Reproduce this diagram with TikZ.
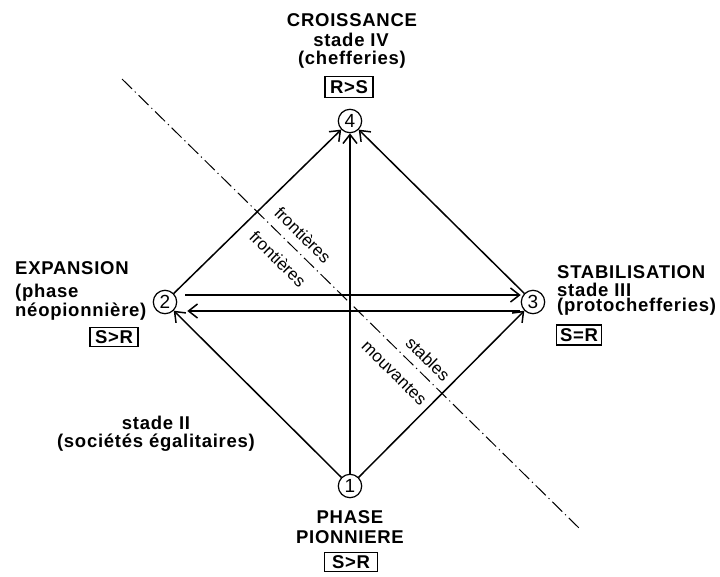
\documentclass[tikz,border=0pt]{standalone}
\usepackage{fontspec}
\setmainfont{Liberation Sans}
\newfontfamily\labfont{Liberation Sans}[LetterSpace=4]
\usetikzlibrary{arrows.meta}
\begin{document}
\begin{tikzpicture}[x=1pt,y=-1pt,
  lab/.style={font=\labfont\fontsize{18.5}{20}\selectfont\bfseries, inner sep=0pt},
  labl/.style={lab, anchor=west},
  rel/.style={draw, line width=1.2pt, font=\labfont\fontsize{18.5}{20}\selectfont\bfseries, minimum width=48pt, minimum height=21pt, inner sep=1pt},
  num/.style={draw, circle, line width=1.2pt, minimum size=23.4pt, inner sep=0pt, font=\fontsize{19}{20}\selectfont},
  fr/.style={font=\fontsize{17}{19}\selectfont, inner sep=0pt, rotate=-44.4},
  arr/.style={line width=1.5pt, -{Straight Barb[length=9pt,width=14pt,line width=1.5pt]}},
  border/.style={line width=1pt, dash pattern=on 14pt off 4pt on 1.2pt off 4pt}
]
\useasboundingbox (0,0) rectangle (720,576);
% numbered nodes
\node[num] (n4) at (350,121) {4};
\node[num] (n2) at (165,302) {2};
\node[num] (n3) at (533,302) {3};
\node[num] (n1) at (350,486) {1};
% arrows
\draw[arr] (n2) -- (n4);
\draw[arr] (n3) -- (n4);
\draw[arr] (n1) -- (n4);
\draw[arr] (n1) -- (n2);
\draw[arr] (n1) -- (n3);
\draw[arr] ([shift={(8pt,7pt)}]n2.east) -- ([yshift=7pt]n3.west);
\draw[arr] ([shift={(-1pt,-9pt)}]n3.west) -- ([shift={(10pt,-9pt)}]n2.east);
% border line
\coordinate (b1) at (122,79);
\coordinate (b2) at (579,528);
\draw[border] (b1) -- (b2);
\node[fr] (f1) at (303,235) {frontières};
\node[fr] (f2) at (278,259) {frontières};
\node[fr] (s1) at (428,359) {stables};
\node[fr] (s2) at (394,373) {mouvantes};
% top
\node[lab] (t1) at (352,20) {CROISSANCE};
\node[lab] (t2) at (351,40) {stade IV};
\node[lab] (t3) at (352,60) {(chefferies)};
\node[rel] (t4) at (349,87) {R>S};
% left
\node[labl] (l1) at (15,268) {EXPANSION};
\node[labl] (l2) at (15,293) {(phase};
\node[labl] (l3) at (15,312) {néopionnière)};
\node[rel, minimum height=19pt] (l4) at (114,337) {S>R};
% right
\node[labl] (r1) at (557,272) {STABILISATION};
\node[labl] (r2) at (557,290) {stade III};
\node[labl] (r3) at (557,307) {(protochefferies)};
\node[rel, minimum width=45pt, minimum height=20pt] (r4) at (579,335) {S=R};
% bottom
\node[lab] (p1) at (350,517) {PHASE};
\node[lab] (p2) at (350,537) {PIONNIERE};
\node[rel, minimum width=53pt, minimum height=19pt] (p3) at (351,562) {S>R};
% stade II
\node[lab] (s21) at (156,423) {stade II};
\node[lab] (s22) at (156,443) {(sociétés égalitaires)};
\end{tikzpicture}
\end{document}
